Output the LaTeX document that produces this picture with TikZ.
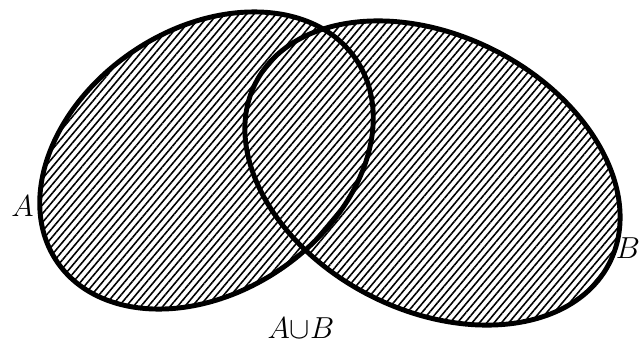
\documentclass[tikz,border=0pt]{standalone}
\usepackage{tikz}
\usetikzlibrary{patterns.meta}
\usepackage{amsmath}
\usepackage{amssymb}

\begin{document}
\begin{tikzpicture}[
      hatch/.style={pattern={Lines[angle=50,distance=3.2pt,line width=0.9pt]}},
      rim/.style={line width=2.8pt},
      setlabel/.style={font=\fontsize{17}{20}\selectfont, inner sep=0pt}
    ]
    \useasboundingbox (0,0) rectangle (12.78,6.86);

    % the union hatched in one go, then the two rims
    \path[hatch]
      {[shift={(4.13,3.65)}, rotate=34] (0,0) ellipse [x radius=3.61, y radius=2.63]}
      {[shift={(8.65,3.40)}, rotate=-27] (0,0) ellipse [x radius=3.97, y radius=2.75]};
    \draw[rim, shift={(4.13,3.65)}, rotate=34] (0,0) ellipse [x radius=3.61, y radius=2.63];
    \draw[rim, shift={(8.65,3.40)}, rotate=-27] (0,0) ellipse [x radius=3.97, y radius=2.75];

    \node[setlabel] (labA) at (0.45,2.74) {$A$};
    \node[setlabel] (labB) at (12.56,1.90) {$B$};
    \node[setlabel] (labU) at (6.02,0.30) {$A{\cup}B$};
  \end{tikzpicture}
\end{document}
